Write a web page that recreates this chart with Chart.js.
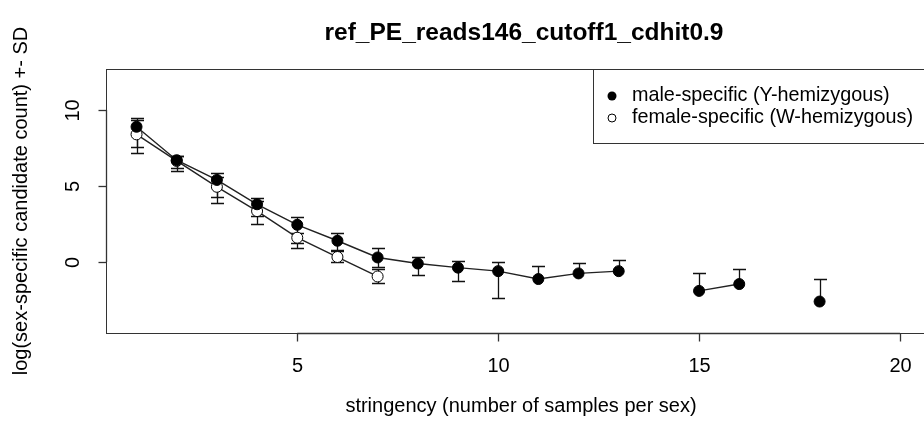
<!DOCTYPE html>
<html>
<head>
<meta charset="utf-8">
<script src="https://cdn.jsdelivr.net/npm/chart.js@4.4.1/dist/chart.umd.min.js"></script>
<style>
  html, body { margin: 0; padding: 0; background: #fff; overflow: hidden; }
  #wrap { position: relative; width: 940px; height: 436px; }
</style>
</head>
<body>
<div id="wrap"><canvas id="myChart"></canvas></div>
<script>
// stringency = number of samples per sex
var stringency = [1, 2, 3, 4, 5, 6, 7, 8, 9, 10, 11, 12, 13, 14, 15, 16, 17, 18];

// male-specific (Y-hemizygous): log count, upper and lower end of the +- SD bar
var maleMean = [8.9, 6.7, 5.4, 3.8, 2.45, 1.4, 0.3, -0.1, -0.37, -0.6, -1.12, -0.75, -0.6, null, -1.9, -1.45, null, -2.6];
var maleHi   = [9.5, 7.0, 5.85, 4.2, 2.95, 1.9, 0.9, 0.3, 0.1, 0.0, -0.25, -0.05, 0.15, null, -0.7, -0.45, null, -1.1];
var maleLo   = [7.6, 6.2, 4.3, 3.0, 1.25, 0.7, -0.3, -0.85, -1.25, -2.4, null, null, null, null, null, null, null, null];

// female-specific (W-hemizygous)
var femaleMean = [8.4, 6.65, 4.95, 3.35, 1.6, 0.33, -0.95];
var femaleHi   = [9.35, 6.95, 5.6, 4.0, 1.9, 0.8, -0.45];
var femaleLo   = [7.2, 6.0, 3.9, 2.5, 0.9, 0.0, -1.4];

var xTicks = [5, 10, 15, 20];
var yTicks = [0, 5, 10];

var titleText = "ref_PE_reads146_cutoff1_cdhit0.9";
var xLabel = "stringency (number of samples per sex)";
var yLabel = "log(sex-specific candidate count) +- SD";
var legendLabels = ["male-specific (Y-hemizygous)", "female-specific (W-hemizygous)"];

var FONT = "'Liberation Sans', Arial, Helvetica, sans-serif";

function toPoints(mean) {
  return mean.map(function (v, i) { return { x: stringency[i], y: v }; });
}

// R style axes, box, titles, legend and error bars
var rPlot = {
  id: "rPlot",
  beforeDatasetsDraw: function (chart) {
    var ctx = chart.ctx;
    var xs = chart.scales.x, ys = chart.scales.y;
    ctx.save();
    ctx.strokeStyle = "#111";
    ctx.lineWidth = 1.3;
    function bars(mean, hi, lo) {
      mean.forEach(function (m, i) {
        if (m === null) return;
        var px = Math.round(xs.getPixelForValue(stringency[i])) + 0.5;
        var py = ys.getPixelForValue(m);
        [hi[i], lo[i]].forEach(function (e) {
          if (e === null || e === undefined) return;
          var ey = Math.round(ys.getPixelForValue(e)) + 0.5;
          ctx.beginPath();
          ctx.moveTo(px, py); ctx.lineTo(px, ey);
          ctx.moveTo(px - 6.5, ey); ctx.lineTo(px + 6.5, ey);
          ctx.stroke();
        });
      });
    }
    bars(maleMean, maleHi, maleLo);
    bars(femaleMean, femaleHi, femaleLo);
    ctx.restore();
  },
  afterDraw: function (chart) {
    var ctx = chart.ctx;
    var a = chart.chartArea;
    var xs = chart.scales.x, ys = chart.scales.y;
    ctx.save();
    ctx.strokeStyle = "#333";
    ctx.lineWidth = 1;
    // plot box
    ctx.strokeRect(Math.round(a.left) + 0.5, Math.round(a.top) + 0.5, Math.round(a.right - a.left), Math.round(a.bottom - a.top));

    ctx.fillStyle = "#000";
    ctx.font = "20px " + FONT;
    // x axis
    var by = Math.round(a.bottom) + 0.5;
    ctx.lineWidth = 1.3;
    ctx.beginPath();
    ctx.moveTo(xs.getPixelForValue(xTicks[0]), by);
    ctx.lineTo(xs.getPixelForValue(xTicks[xTicks.length - 1]), by);
    ctx.stroke();
    ctx.textAlign = "center";
    ctx.textBaseline = "middle";
    xTicks.forEach(function (t) {
      var px = Math.round(xs.getPixelForValue(t)) + 0.5;
      ctx.beginPath(); ctx.moveTo(px, by); ctx.lineTo(px, by + 8); ctx.stroke();
      ctx.fillText(String(t), px, 366);
    });
    // y axis
    var lx = Math.round(a.left) + 0.5;
    ctx.beginPath();
    ctx.moveTo(lx, ys.getPixelForValue(yTicks[0]));
    ctx.lineTo(lx, ys.getPixelForValue(yTicks[yTicks.length - 1]));
    ctx.stroke();
    yTicks.forEach(function (t) {
      var py = Math.round(ys.getPixelForValue(t)) + 0.5;
      ctx.beginPath(); ctx.moveTo(lx, py); ctx.lineTo(lx - 8, py); ctx.stroke();
      ctx.save();
      ctx.translate(73, py);
      ctx.rotate(-Math.PI / 2);
      ctx.fillText(String(t), 0, 0);
      ctx.restore();
    });
    // axis titles
    ctx.fillText(xLabel, 521, 406);
    ctx.save();
    ctx.translate(21, 201);
    ctx.rotate(-Math.PI / 2);
    ctx.fillText(yLabel, 0, 0);
    ctx.restore();
    // main title
    ctx.font = "bold 24.5px " + FONT;
    ctx.fillText(titleText, 524, 33);

    // legend
    ctx.lineWidth = 1;
    ctx.strokeStyle = "#333";
    ctx.fillStyle = "#fff";
    ctx.fillRect(594, 70, 346, 73);
    ctx.strokeRect(593.5, 69.5, 346, 74);
    ctx.font = "19.8px " + FONT;
    ctx.textAlign = "left";
    var rows = [96, 118];
    ctx.fillStyle = "#000";
    ctx.beginPath(); ctx.arc(612, rows[0], 4.5, 0, Math.PI * 2); ctx.fill();
    ctx.fillText(legendLabels[0], 632, rows[0]);
    ctx.strokeStyle = "#000";
    ctx.beginPath(); ctx.arc(612, rows[1], 4, 0, Math.PI * 2); ctx.stroke();
    ctx.fillText(legendLabels[1], 632, rows[1]);
    ctx.restore();
  }
};

new Chart("myChart", {
  type: "line",
  data: {
    datasets: [{
      label: legendLabels[0],
      data: toPoints(maleMean),
      borderColor: "#222",
      borderWidth: 1.4,
      pointRadius: 5.5,
      pointBackgroundColor: "#000",
      pointBorderColor: "#000",
      pointBorderWidth: 1,
      spanGaps: false
    }, {
      label: legendLabels[1],
      data: toPoints(femaleMean),
      borderColor: "#222",
      borderWidth: 1.4,
      pointRadius: 5.5,
      pointBackgroundColor: "#fff",
      pointBorderColor: "#000",
      pointBorderWidth: 1
    }]
  },
  options: {
    responsive: true,
    maintainAspectRatio: false,
    animation: false,
    devicePixelRatio: 1,
    layout: { padding: { left: 106, right: 9.5, top: 69, bottom: 103 } },
    plugins: { legend: { display: false }, title: { display: false }, tooltip: { enabled: false } },
    scales: {
      x: { type: "linear", display: false, min: 0.24, max: 20.76 },
      y: { type: "linear", display: false, min: -4.67, max: 12.7 }
    }
  },
  plugins: [rPlot]
});
</script>
</body>
</html>
